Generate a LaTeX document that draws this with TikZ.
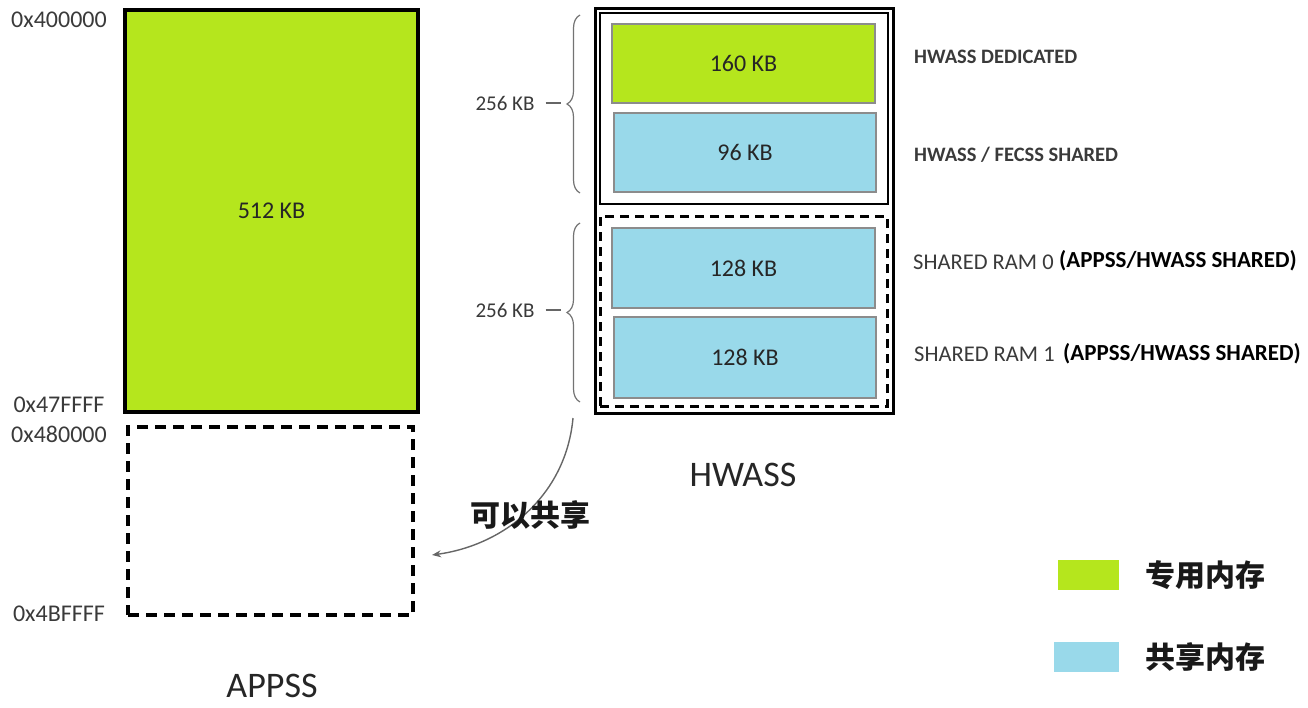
\documentclass[tikz,border=0pt]{standalone}
\usepackage{fontspec}
\setmainfont{Carlito}
\newfontfamily\cjk{Noto Sans CJK SC}
\usetikzlibrary{decorations.pathreplacing,arrows.meta}
\definecolor{limeg}{HTML}{B5E61D}
\definecolor{skyb}{HTML}{99D9EA}
\definecolor{txtg}{HTML}{3A3A3A}
\begin{document}
\begin{tikzpicture}[x=1pt,y=-1pt,
  box/.style={rectangle, inner sep=0pt, outer sep=0pt},
  mem/.style={box, draw=black!45, line width=1.2pt, font=\fontsize{24}{28}\selectfont, text=black!85},
  ded/.style={mem, fill=limeg},
  shr/.style={mem, fill=skyb},
  addr/.style={font=\fontsize{24}{28}\selectfont, text=txtg, inner sep=0pt},
  side/.style={font=\fontsize{22.5}{26}\selectfont, text=txtg, inner sep=0pt, anchor=west},
  sidebold/.style={side, font=\bfseries\fontsize{20.5}{24}\selectfont},
  sideblk/.style={side, font=\bfseries\fontsize{23}{27}\selectfont, text=black},
  big/.style={font=\fontsize{36}{40}\selectfont, text=black!85, inner sep=0pt},
  cjkt/.style={font=\cjk\bfseries\fontsize{30}{34}\selectfont, text=black!90, inner sep=0pt},
  bracestyle/.style={draw=black!55, line width=1.2pt, decorate, decoration={brace, amplitude=13pt}},
  dashbox/.style={box, draw=black, line width=3.2pt, dash pattern=on 11pt off 7pt},
]
\useasboundingbox (0,0) rectangle (1308,707);

% APPSS
\node[box, draw=black, line width=3.5pt, fill=limeg, minimum width=293pt, minimum height=402pt,
      font=\fontsize{24}{28}\selectfont, text=black!85] (app) at (271.5,211) {512 KB};
\node[dashbox, minimum width=285pt, minimum height=188pt] (appdash) at (270.5,521) {};
\node[addr] (a0) at (59,20) {0x400000};
\node[addr] (a1) at (59,405) {0x47FFFF};
\node[addr] (a2) at (59,434) {0x480000};
\node[addr] (a3) at (59,614) {0x4BFFFF};
\node[big] (apps) at (272,686) {APPSS};

% HWASS
\node[box, draw=black, line width=3pt, minimum width=298pt, minimum height=405pt] (hw) at (744,210.5) {};
\node[box, draw=black, line width=2.5pt, minimum width=288pt, minimum height=191pt] (hwup) at (744,108.5) {};
\node[dashbox, line width=3pt, dash pattern=on 9pt off 6pt, minimum width=287pt, minimum height=190pt] (hwdn) at (743.5,311) {};
\node[ded, minimum width=263pt, minimum height=79pt] (m160) at (743.5,63.5) {160 KB};
\node[shr, minimum width=262pt, minimum height=79pt] (m96) at (745,152.5) {96 KB};
\node[shr, minimum width=263pt, minimum height=80pt] (m128a) at (743.5,268) {128 KB};
\node[shr, minimum width=262pt, minimum height=81pt] (m128b) at (745,357.5) {128 KB};
\node[big] (hwl) at (743,475) {HWASS};

% side labels
\node[sidebold] (s1) at (914,57) {HWASS DEDICATED};
\node[sidebold] (s2) at (914,155) {HWASS / FECSS SHARED};
\node[side] (s3) at (913,262) {SHARED RAM 0};
\node[sideblk] (s3b) at (1059,261) {(APPSS/HWASS SHARED)};
\node[side] (s4) at (914,354) {SHARED RAM 1};
\node[sideblk] (s4b) at (1063,354) {(APPSS/HWASS SHARED)};

% braces
\coordinate (b1b) at (580,193);
\coordinate (b1t) at (580,15);
\coordinate (b2b) at (580,402);
\coordinate (b2t) at (580,223);
\draw[bracestyle] (b1b) -- (b1t);
\draw[bracestyle] (b2b) -- (b2t);
\node[addr, font=\fontsize{21}{24}\selectfont] (k1) at (505,103) {256 KB};
\node[addr, font=\fontsize{21}{24}\selectfont] (k2) at (505,310) {256 KB};
\coordinate (d1) at (561,103);
\coordinate (d2) at (561,310);
\draw[black!60, line width=1.2pt] ([xshift=11pt]k1.east) -- (d1);
\draw[black!60, line width=1.2pt] ([xshift=11pt]k2.east) -- (d2);

% arrow
\coordinate (arS) at (573,418);
\coordinate (arE) at (432,555);
\draw[black!60, line width=1.4pt, -{Stealth[length=9pt,width=7pt]}] (arS) .. controls (566,495) and (505,545) .. (arE);
\node[cjkt] (share) at (530,515) {可以共享};

% legend
\node[box, fill=limeg, minimum width=61pt, minimum height=30pt] (lg1) at (1088.5,575) {};
\node[box, fill=skyb, minimum width=65pt, minimum height=30pt] (lg2) at (1086.5,657) {};
\node[cjkt] (lt1) at (1205,575) {专用内存};
\node[cjkt] (lt2) at (1205,657) {共享内存};
\end{tikzpicture}
\end{document}
